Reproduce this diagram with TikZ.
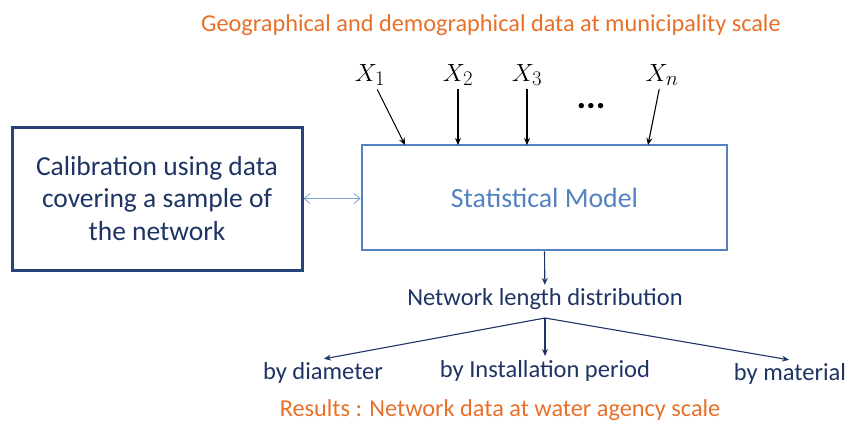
\documentclass[tikz,border=0pt]{standalone}
\usepackage{amsmath}
\usepackage{fontspec}
\setmainfont{Carlito}
\usetikzlibrary{arrows.meta}
\definecolor{orangetxt}{RGB}{232,112,40}
\definecolor{modelblue}{RGB}{84,130,192}
\definecolor{navybox}{RGB}{38,68,120}
\definecolor{navytxt}{RGB}{30,52,100}
\definecolor{lightblue}{RGB}{120,160,210}

\begin{document}
\begin{tikzpicture}[x=1pt,y=-1pt,
    arr/.style={draw=navytxt,line width=1.1pt,-{Stealth[length=7pt,width=6pt]}},
    xarr/.style={draw=black,line width=1.1pt,-{Stealth[length=7pt,width=6pt]}},
    branch/.style={text=navytxt,font=\fontsize{24.5}{28}\selectfont}]
    \useasboundingbox (0,0) rectangle (848,426);
    % titles
    \node[text=orangetxt,font=\fontsize{24.3}{28}\selectfont] (geo) at (491,25) {Geographical and demographical data at municipality scale};
    \node[text=orangetxt,font=\fontsize{24.3}{28}\selectfont] (res) at (500,410) {Results : Network data at water agency scale};
    % boxes
    \node[draw=modelblue,line width=2.8pt,minimum width=365pt,minimum height=105pt,
        text=modelblue,font=\fontsize{27.8}{30}\selectfont] (model) at (544.5,197.5) {Statistical Model};
    \node[draw=navybox,line width=3pt,minimum width=290pt,minimum height=143pt,align=center,
        text=navytxt,font=\fontsize{27.5}{32.5}\selectfont] (calib) at (157,198.5)
        {Calibration using data\\covering a sample of\\the network};
    \draw[draw=lightblue,line width=0.8pt,{Straight Barb[length=6pt,width=10pt]}-{Straight Barb[length=6pt,width=10pt]}]
        (calib.east) -- (calib.east -| model.west);
    % inputs
    \node[font=\fontsize{31}{33}\selectfont] (x1) at (370,75) {$X_1$};
    \node[font=\fontsize{31}{33}\selectfont] (x2) at (458,75) {$X_2$};
    \node[font=\fontsize{31}{33}\selectfont] (x3) at (527,75) {$X_3$};
    \node[font=\fontsize{31}{33}\selectfont] (xn) at (662,75) {$X_n$};
    \node[font=\bfseries\fontsize{36}{38}\selectfont] (dots) at (591,106) {...};
    \coordinate (t1) at (405,145);
    \coordinate (t2) at (458,145);
    \coordinate (t3) at (527,145);
    \coordinate (tn) at (648,145);
    \draw[xarr] (x1) -- (t1);
    \draw[xarr] (x2) -- (t2);
    \draw[xarr] (x3) -- (t3);
    \draw[xarr] (xn) -- (tn);
    % outputs
    \node[branch] (netlen) at (545,299) {Network length distribution};
    \node[branch] (diam) at (323,373) {by diameter};
    \node[branch] (period) at (545,371) {by Installation period};
    \node[branch] (mat) at (790,374) {by material};
    \coordinate (fork) at (545,318);
    \draw[arr] (model.south) -- (netlen);
    \draw[arr,shorten >=1pt] (fork) -- (diam.north);
    \draw[arr,shorten >=1pt] (fork) -- (period.north);
    \draw[arr,shorten >=1pt] (fork) -- (mat.north);
\end{tikzpicture}
\end{document}
